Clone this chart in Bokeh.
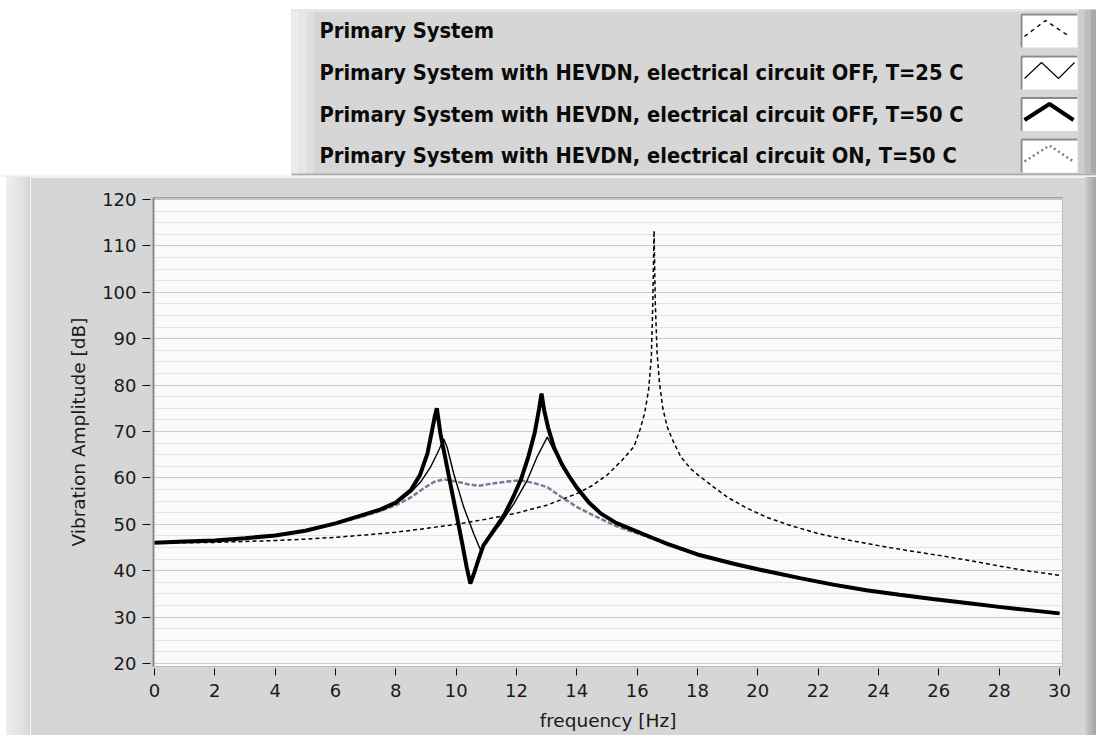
from bokeh.plotting import figure
from bokeh.layouts import column, row
from bokeh.models import Range1d, SingleIntervalTicker, Span, Div
from bokeh.core.properties import value
from bokeh.embed import file_html
from bokeh.resources import INLINE

# ---------------- data ----------------
freq_primary = [0, 1, 2, 3, 4, 5, 6, 7, 8, 9, 10, 11, 12, 13, 14, 14.5, 15, 15.5, 15.9, 16.1,
                16.25, 16.38, 16.47, 16.52, 16.56, 16.6, 16.66, 16.74, 16.85, 17.0, 17.2, 17.45,
                17.8, 18.1, 18.5, 19.0, 19.6, 20.3, 21.0, 22.0, 23.0, 24.0, 25.0, 26.0, 27.0, 28.0,
                29.0, 30.0]
db_primary = [46.0, 46.0, 46.1, 46.3, 46.5, 46.8, 47.2, 47.7, 48.3, 49.1, 50.0, 51.1, 52.4, 54.1,
              56.6, 58.3, 60.6, 63.8, 66.8, 70.5, 74.0, 79.0, 86.0, 98.0, 113.3, 98.0, 87.0, 80.5,
              75.0, 70.9, 67.8, 64.5, 61.8, 60.2, 58.2, 55.8, 53.6, 51.5, 49.9, 48.0, 46.6, 45.4,
              44.3, 43.3, 42.2, 41.0, 39.9, 39.0]

freq_off25 = [0, 1, 2, 3, 4, 5, 6, 7, 7.5, 8, 8.5, 8.82, 9.15, 9.42, 9.59, 9.70, 9.92, 10.25,
              10.58, 10.81, 11.03, 11.47, 11.91, 12.35, 12.68, 13.02, 13.24, 13.68, 14.0, 14.4,
              14.8, 15.3, 15.9, 16.5, 17.0, 18.0, 19.2, 20.0, 21.4, 22.5, 23.6, 24.7, 25.8, 27.0,
              28.0, 29.0, 30.0]
db_off25 = [46.0, 46.3, 46.5, 47.0, 47.6, 48.6, 50.2, 52.1, 53.0, 54.4, 56.9, 59.1, 62.3, 65.9,
            68.4, 66.6, 60.9, 53.7, 48.0, 44.4, 46.5, 50.1, 54.4, 59.4, 64.5, 68.8, 65.9, 60.9,
            57.9, 54.7, 52.3, 50.3, 48.7, 47.1, 45.8, 43.5, 41.5, 40.3, 38.4, 37.0, 35.8, 34.8,
            33.9, 33.0, 32.2, 31.5, 30.8]

freq_off50 = [0, 1, 2, 3, 4, 5, 6, 7, 7.5, 8, 8.5, 8.8, 9.05, 9.2, 9.3, 9.36, 9.48, 9.6, 9.8,
              10.0, 10.2, 10.35, 10.47, 10.6, 10.75, 10.9, 11.1, 11.3, 11.6, 11.9, 12.15, 12.4,
              12.6, 12.75, 12.83, 12.92, 13.05, 13.25, 13.5, 13.75, 14.0, 14.4, 14.8, 15.3, 15.9,
              16.5, 17.0, 18.0, 19.2, 20.0, 21.4, 22.5, 23.6, 24.7, 25.8, 27.0, 28.0, 29.0, 30.0]
db_off50 = [46.0, 46.3, 46.5, 47.0, 47.6, 48.6, 50.2, 52.2, 53.2, 54.7, 57.4, 60.6, 65.3, 70.2,
            73.5, 75.0, 69.5, 65.6, 59.0, 52.5, 45.9, 40.7, 37.2, 39.6, 42.6, 45.4, 47.3, 49.2,
            52.1, 56.0, 59.7, 64.7, 69.6, 74.9, 78.2, 74.5, 70.8, 66.5, 63.0, 60.3, 57.9, 54.7,
            52.3, 50.3, 48.7, 47.1, 45.8, 43.5, 41.5, 40.3, 38.4, 37.0, 35.8, 34.8, 33.9, 33.0,
            32.2, 31.5, 30.8]

freq_on50 = [0, 1, 2, 3, 4, 5, 6, 7, 7.5, 8, 8.5, 8.93, 9.26, 9.59, 10.03, 10.4, 10.75, 11.03,
             11.4, 11.69, 12.13, 12.57, 13.02, 13.46, 14.01, 14.4, 14.78, 15.3, 15.89, 16.5, 17.0,
             18.0, 19.2, 20.0, 21.4, 22.5, 23.6, 24.7, 25.8, 27.0, 28.0, 29.0, 30.0]
db_on50 = [46.0, 46.3, 46.5, 47.0, 47.6, 48.6, 50.1, 51.9, 52.9, 54.1, 55.8, 57.8, 59.1, 59.7,
           59.2, 58.6, 58.3, 58.6, 59.0, 59.2, 59.5, 58.9, 58.0, 56.0, 53.7, 52.4, 51.2, 49.6,
           48.3, 46.9, 45.7, 43.4, 41.4, 40.2, 38.3, 36.9, 35.7, 34.7, 33.8, 32.9, 32.1, 31.4,
           30.7]

series_labels = [
    "Primary System",
    "Primary System with HEVDN, electrical circuit OFF, T=25 C",
    "Primary System with HEVDN, electrical circuit OFF, T=50 C",
    "Primary System with HEVDN, electrical circuit ON, T=50 C",
]
x_title = "frequency [Hz]"
y_title = "Vibration Amplitude [dB]"

# ---------------- styles ----------------
PANEL = "#d6d6d6"
ON_COLOR = "#7a7a96"
TICK_FONT = "DejaVu Sans"
LEG_FONT = "DejaVu Sans Condensed"

W = 1096
TOP_H = 177
CH_H = 558
LEFT_W = 30
RIGHT_W = 11


def blank(width, height, bg):
    f = figure(width=width, height=height, x_axis_type=None, y_axis_type=None,
               x_range=Range1d(0, width), y_range=Range1d(height, 0),
               toolbar_location=None, output_backend="svg", min_border=0)
    f.background_fill_color = bg
    f.border_fill_color = bg
    f.outline_line_color = None
    return f


def band(f, l, r, t, b, c):
    f.quad(left=[l], right=[r], top=[t], bottom=[b], fill_color=c, line_color=None)


# ---------------- legend panel (top) ----------------
lg = blank(W, TOP_H, "white")
LB_L, LB_T, LB_B = 291, 9, 175
band(lg, LB_L, W, LB_T, LB_B, PANEL)
band(lg, LB_L, LB_L + 8, LB_T, LB_B, "#ececec")
band(lg, LB_L + 8, LB_L + 16, LB_T, LB_B, "#e6e6e6")
band(lg, LB_L + 16, LB_L + 23, LB_T, LB_B, "#dedede")
band(lg, LB_L, W, LB_T, LB_T + 2, "#e6e6e6")
band(lg, LB_L, W, LB_B - 2, LB_B, "#ababab")
band(lg, W - 18, W - 12, LB_T, LB_B - 2, "#cdcdcd")
band(lg, W - 12, W - 6, LB_T, LB_B - 2, "#bdbdbd")
band(lg, W - 6, W, LB_T, LB_B - 2, "#a9a9a9")
band(lg, 0, W, LB_B, TOP_H, "#eeeeee")

rows_y = [30, 72, 113.5, 155]
lg.text(x=[319] * 4, y=rows_y, text=series_labels, text_font=value(LEG_FONT),
        text_font_style="bold", text_font_size="21.7px", text_baseline="middle",
        text_color="#0a0a0a")

ib_l, ib_r, ib_h = 1020, 1077, 34
for yc in rows_y:
    band(lg, ib_l, ib_r, yc - ib_h / 2, yc + ib_h / 2, "white")
    lg.line(x=[ib_l + 1, ib_l + 1, ib_r], y=[yc + ib_h / 2, yc - ib_h / 2 + 1, yc - ib_h / 2 + 1],
            line_color="#8a8a8a", line_width=2)


def icon_pts(yc, kind):
    if kind == "tent1":
        return ([ib_l + 4, ib_l + 25, ib_r - 8], [yc + 6, yc - 10, yc + 6])
    if kind == "tent":
        return ([ib_l + 4, ib_l + 29, ib_r - 4], [yc + 6, yc - 10, yc + 6])
    return ([ib_l + 4, ib_l + 21, ib_l + 38, ib_r - 3], [yc + 6, yc - 10, yc + 6, yc - 10])


xs, ys = icon_pts(rows_y[0], "tent1")
lg.line(xs, ys, line_color="black", line_width=1.4, line_dash="4 4")
xs, ys = icon_pts(rows_y[1], "zig")
lg.line(xs, ys, line_color="black", line_width=1.1)
xs, ys = icon_pts(rows_y[2], "tent")
lg.line(xs, ys, line_color="black", line_width=4)
xs, ys = icon_pts(rows_y[3], "tent")
lg.line(xs, ys, line_color=ON_COLOR, line_width=2.5, line_dash="2 3")

# ---------------- chart panel ----------------
left_strip = Div(text="", width=LEFT_W, height=CH_H, margin=0,
                 styles={"background": "linear-gradient(to right, #ffffff 0px, #ffffff 6px, "
                                       "#eeeeee 6px, #e4e4e4 20px, #d6d6d6 30px)"})
right_strip = Div(text="", width=RIGHT_W, height=CH_H, margin=0,
                  styles={"background": "linear-gradient(to right, #d0d0d0 0px, #b4b4b4 6px, "
                                        "#a4a4a4 11px)"})

CW = W - LEFT_W - RIGHT_W
p = figure(width=CW, height=CH_H, x_range=Range1d(-0.033, 30.1), y_range=Range1d(19.35, 120.43),
           toolbar_location=None, output_backend="svg",
           min_border_left=123, min_border_right=23, min_border_top=20, min_border_bottom=69)
p.background_fill_color = "#fafafa"
p.border_fill_color = PANEL
p.outline_line_color = "#bcbcbc"
p.outline_line_width = 1

yt = SingleIntervalTicker(interval=10, num_minor_ticks=4)
xt = SingleIntervalTicker(interval=2, num_minor_ticks=0)
p.yaxis.ticker = yt
p.ygrid.ticker = yt
p.xaxis.ticker = xt
p.xgrid.visible = False
p.ygrid.grid_line_color = "#cacaca"
p.ygrid.grid_line_width = 1
p.ygrid.minor_grid_line_color = "#e4e4e4"
p.ygrid.minor_grid_line_width = 1

for ax in (p.xaxis[0], p.yaxis[0]):
    ax.major_label_text_font = TICK_FONT
    ax.major_label_text_font_size = "18px"
    ax.major_label_text_color = "#1a1a1a"
    ax.axis_label_text_font = TICK_FONT
    ax.axis_label_text_font_size = "18.5px"
    ax.axis_label_text_font_style = "normal"
    ax.axis_label_text_color = "#1a1a1a"
    ax.minor_tick_line_color = None
    ax.major_tick_line_color = "#111111"
    ax.major_tick_line_width = 1

p.xaxis.axis_line_color = None
p.xaxis.major_tick_in = -2
p.xaxis.major_tick_out = 9
p.xaxis.major_label_standoff = 8
p.xaxis.axis_label = x_title
p.xaxis.axis_label_standoff = 10

p.yaxis.axis_line_color = "#8a8a8a"
p.yaxis.axis_line_width = 2
p.yaxis.major_tick_in = -3
p.yaxis.major_tick_out = 11
p.yaxis.major_label_standoff = 6
p.yaxis.axis_label = y_title
p.yaxis.axis_label_standoff = 10

p.add_layout(Span(location=120.43, dimension="width", line_color="#8a8a8a", line_width=2))

p.line(freq_on50, db_on50, line_color=ON_COLOR, line_width=2.5, line_dash="5 2")
p.line(freq_primary, db_primary, line_color="black", line_width=1.5, line_dash="4 3")
p.line(freq_off25, db_off25, line_color="black", line_width=1.4)
p.line(freq_off50, db_off50, line_color="black", line_width=4)

layout = column(lg, row(left_strip, p, right_strip, spacing=0), spacing=0)

open("out.html", "w").write(file_html(layout, INLINE))
